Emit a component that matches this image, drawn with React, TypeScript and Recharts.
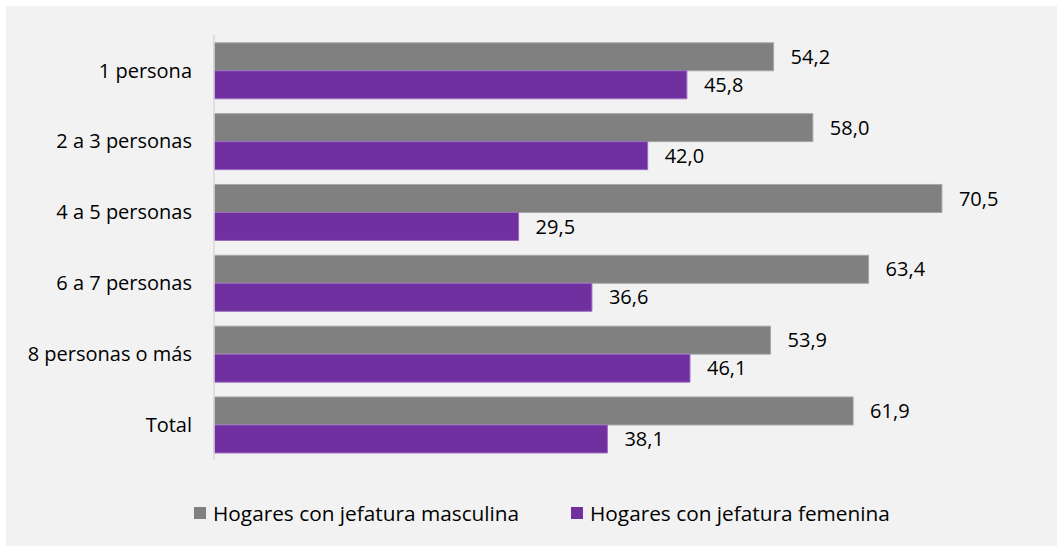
import React from "react";
import { BarChart, Bar, XAxis, YAxis, LabelList } from "recharts";

const categories = ["1 persona", "2 a 3 personas", "4 a 5 personas", "6 a 7 personas", "8 personas o más", "Total"];
const masculina = [54.2, 58.0, 70.5, 63.4, 53.9, 61.9];
const femenina = [45.8, 42.0, 29.5, 36.6, 46.1, 38.1];
const seriesNames = ["Hogares con jefatura masculina", "Hogares con jefatura femenina"];
const seriesColors = ["#808080", "#7030a0"];
const seriesStrokes = ["#a6a6a6", "#9a6cc0"];

const data = categories.map((c, i) => ({ name: c, m: masculina[i], f: femenina[i] }));

const FONT = "'Open Sans', sans-serif";
const FS = 20;
const fmt = (v: any) => Number(v).toFixed(1).replace(".", ",");

const LegendContent = () => (
  <div style={{ position: "absolute", left: 0, top: 0, width: 1051, height: 30, fontFamily: FONT }}>
    {seriesNames.map((n, i) => (
      <div key={n} style={{ position: "absolute", left: i === 0 ? 188 : 565, top: 0, display: "flex", alignItems: "center", height: 30 }}>
        <div style={{ width: 12, height: 12, background: seriesColors[i], marginRight: 7 }} />
        <span style={{ fontSize: 20.8, color: "#000", whiteSpace: "nowrap", lineHeight: "30px" }}>{n}</span>
      </div>
    ))}
  </div>
);

export default function App() {
  return (
    <div style={{ position: "absolute", left: 0, top: 0, width: 1057, height: 546, background: "#fff" }}>
      <div style={{ position: "absolute", left: 6, top: 6, width: 1051, height: 540, background: "#f2f2f2" }}>
        <BarChart
          width={1051}
          height={540}
          data={data}
          layout="vertical"
          margin={{ top: 29, right: 17, bottom: 86, left: 0 }}
          barCategoryGap="11%"
          barGap={0}
        >
          <XAxis type="number" domain={[0, 80]} hide />
          <YAxis
            type="category"
            dataKey="name"
            width={208}
            axisLine={{ stroke: "#d9d9d9", strokeWidth: 1.5 }}
            tickLine={false}
            tickSize={0}
            tickMargin={22}
            tick={{ fill: "#000", fontSize: FS, fontFamily: FONT }}
          />
          <Bar dataKey="m" fill={seriesColors[0]} stroke={seriesStrokes[0]} strokeWidth={1} isAnimationActive={false}>
            <LabelList dataKey="m" position="right" offset={17} formatter={fmt} style={{ fill: "#000", fontSize: FS, fontFamily: FONT }} />
          </Bar>
          <Bar dataKey="f" fill={seriesColors[1]} stroke={seriesStrokes[1]} strokeWidth={1} isAnimationActive={false}>
            <LabelList dataKey="f" position="right" offset={17} formatter={fmt} style={{ fill: "#000", fontSize: FS, fontFamily: FONT }} />
          </Bar>
        </BarChart>
        <div style={{ position: "absolute", left: 0, top: 492 }}>
          <LegendContent />
        </div>
      </div>
    </div>
  );
}
